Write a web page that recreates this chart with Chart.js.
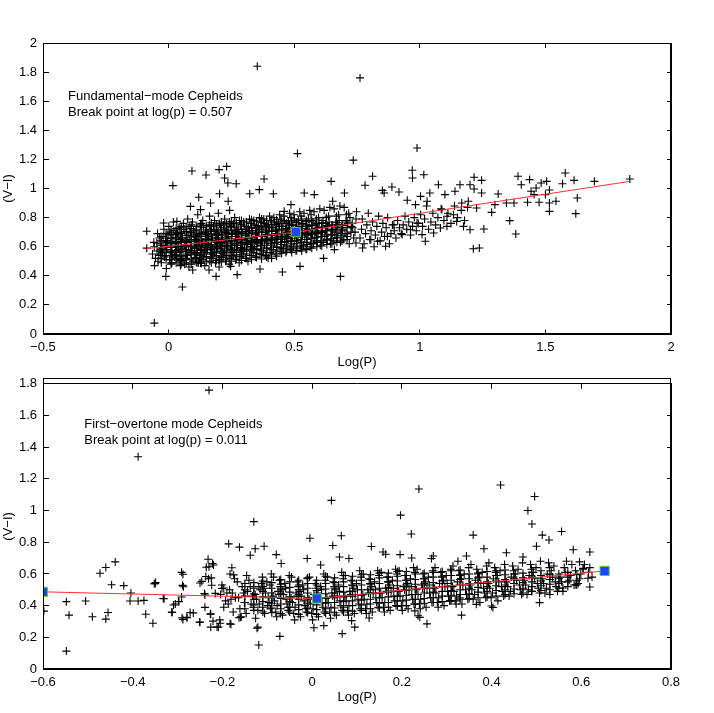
<!DOCTYPE html>
<html>
<head>
<meta charset="utf-8">
<title>Cepheid colour vs period</title>
<script src="https://cdn.jsdelivr.net/npm/chart.js@4.4.0/dist/chart.umd.min.js"></script>
<style>
  html, body { margin: 0; padding: 0; background: #fff; }
  #wrap { position: relative; width: 714px; height: 713px; }
  .layer { position: absolute; left: 0; }
  .frame { position: absolute; left: 43px; width: 628px; height: 291px; border: 1px solid #000; box-sizing: border-box; }
</style>
</head>
<body>
<div id="wrap">
  <div class="frame" style="top:43px"></div>
  <div class="frame" style="top:378px"></div>
  <canvas class="layer" id="fundData" width="714" height="370" style="top:0"></canvas>
  <canvas class="layer" id="fundAxes" width="714" height="370" style="top:0"></canvas>
  <canvas class="layer" id="overtoneData" width="714" height="343" style="top:370px"></canvas>
  <canvas class="layer" id="overtoneAxes" width="714" height="343" style="top:370px"></canvas>
</div>
<script>
// Fundamental-mode Cepheids: [log P, V-I]
const fundStars = [
  [-0.064,0.55],[-0.059,0.63],[-0.052,0.52],[-0.057,0.6],
  [-0.046,0.57],[-0.037,0.66],[-0.042,0.5],[-0.033,0.62],[-0.044,0.69],[-0.039,0.54],
  [-0.027,0.59],[-0.016,0.53],[-0.022,0.67],[-0.013,0.61],[-0.029,0.49],[-0.019,0.72],[-0.024,0.56],[-0.011,0.64],
  [-0.007,0.58],[0.004,0.51],[-0.002,0.68],[0.007,0.62],[-0.009,0.45],[0.001,0.74],[0.009,0.56],[-0.004,0.64],[0.005,0.7],
  [0.013,0.6],[0.024,0.53],[0.017,0.66],[0.028,0.57],[0.011,0.49],[0.021,0.71],[0.026,0.63],[0.015,0.55],[0.019,0.77],[0.029,0.68],
  [0.033,0.62],[0.046,0.5],[0.037,0.58],[0.048,0.65],[0.031,0.54],[0.042,0.73],[0.039,0.6],[0.044,0.56],[0.035,0.69],[0.047,0.47],[0.041,0.66],
  [0.053,0.59],[0.066,0.64],[0.057,0.52],[0.068,0.57],[0.051,0.7],[0.062,0.61],[0.059,0.76],[0.064,0.48],[0.055,0.66],[0.067,0.54],[0.061,0.72],
  [0.073,0.63],[0.086,0.56],[0.077,0.68],[0.088,0.6],[0.071,0.51],[0.082,0.74],[0.079,0.58],[0.084,0.65],[0.075,0.54],[0.087,0.7],[0.081,0.46],[0.076,0.79],
  [0.093,0.57],[0.106,0.62],[0.097,0.5],[0.108,0.67],[0.091,0.6],[0.102,0.55],[0.099,0.71],[0.104,0.64],[0.095,0.77],[0.107,0.52],[0.101,0.68],[0.096,0.44],[0.103,0.59],
  [0.113,0.61],[0.126,0.54],[0.117,0.66],[0.128,0.58],[0.111,0.72],[0.122,0.63],[0.119,0.49],[0.124,0.69],[0.115,0.56],[0.127,0.75],[0.121,0.6],[0.116,0.82],[0.123,0.52],
  [0.133,0.58],[0.146,0.65],[0.137,0.51],[0.148,0.61],[0.131,0.68],[0.142,0.55],[0.139,0.73],[0.144,0.47],[0.135,0.63],[0.147,0.7],[0.141,0.57],[0.136,0.78],[0.143,0.6],
  [0.153,0.62],[0.166,0.56],[0.157,0.69],[0.168,0.6],[0.151,0.53],[0.162,0.75],[0.159,0.65],[0.164,0.5],[0.155,0.58],[0.167,0.72],[0.161,0.44],[0.156,0.67],[0.163,0.81],
  [0.173,0.59],[0.186,0.64],[0.177,0.52],[0.188,0.68],[0.171,0.61],[0.182,0.56],[0.179,0.74],[0.184,0.6],[0.175,0.66],[0.187,0.49],[0.181,0.71],[0.176,0.55],[0.183,0.78],
  [0.193,0.63],[0.206,0.57],[0.197,0.7],[0.208,0.61],[0.191,0.54],[0.202,0.76],[0.199,0.66],[0.204,0.51],[0.195,0.59],[0.207,0.73],[0.201,0.46],[0.196,0.68],[0.203,0.62],[0.198,0.83],
  [0.213,0.6],[0.226,0.66],[0.217,0.53],[0.228,0.7],[0.211,0.63],[0.222,0.57],[0.219,0.75],[0.224,0.61],[0.215,0.68],[0.227,0.5],[0.221,0.72],[0.216,0.56],[0.223,0.79],
  [0.233,0.64],[0.246,0.58],[0.237,0.71],[0.248,0.62],[0.231,0.55],[0.242,0.77],[0.239,0.67],[0.244,0.52],[0.235,0.6],[0.247,0.74],[0.241,0.48],[0.236,0.69],[0.243,0.85],
  [0.253,0.61],[0.266,0.67],[0.257,0.54],[0.268,0.71],[0.251,0.64],[0.262,0.58],[0.259,0.76],[0.264,0.62],[0.255,0.69],[0.267,0.51],[0.261,0.73],[0.256,0.57],[0.263,0.8],
  [0.273,0.65],[0.286,0.59],[0.277,0.72],[0.288,0.63],[0.271,0.56],[0.282,0.78],[0.279,0.68],[0.284,0.53],[0.275,0.61],[0.287,0.75],[0.281,0.49],[0.276,0.7],
  [0.293,0.62],[0.306,0.68],[0.297,0.55],[0.308,0.72],[0.291,0.65],[0.302,0.59],[0.299,0.77],[0.304,0.63],[0.295,0.7],[0.307,0.52],[0.301,0.74],[0.296,0.58],
  [0.313,0.66],[0.326,0.6],[0.317,0.73],[0.328,0.64],[0.311,0.57],[0.322,0.79],[0.319,0.69],[0.324,0.54],[0.315,0.62],[0.327,0.76],[0.321,0.71],[0.316,0.5],
  [0.333,0.63],[0.346,0.69],[0.337,0.56],[0.348,0.73],[0.331,0.66],[0.342,0.6],[0.339,0.78],[0.344,0.64],[0.335,0.71],[0.347,0.53],[0.341,0.75],[0.336,0.59],
  [0.353,0.67],[0.366,0.61],[0.357,0.74],[0.368,0.65],[0.351,0.58],[0.362,0.8],[0.359,0.7],[0.364,0.55],[0.355,0.63],[0.367,0.77],[0.361,0.72],
  [0.373,0.64],[0.386,0.7],[0.377,0.57],[0.388,0.74],[0.371,0.67],[0.382,0.61],[0.379,0.79],[0.384,0.65],[0.375,0.72],[0.387,0.54],[0.381,0.76],
  [0.393,0.68],[0.406,0.62],[0.397,0.75],[0.408,0.66],[0.391,0.59],[0.402,0.81],[0.399,0.71],[0.404,0.56],[0.395,0.64],[0.407,0.78],[0.401,0.73],[0.396,0.52],
  [0.413,0.65],[0.426,0.71],[0.417,0.58],[0.428,0.75],[0.411,0.68],[0.422,0.62],[0.419,0.8],[0.424,0.66],[0.415,0.73],[0.427,0.55],[0.421,0.77],
  [0.433,0.69],[0.446,0.63],[0.437,0.76],[0.448,0.67],[0.431,0.6],[0.442,0.82],[0.439,0.72],[0.444,0.57],[0.435,0.65],[0.447,0.79],[0.441,0.74],
  [0.453,0.66],[0.466,0.72],[0.457,0.59],[0.468,0.76],[0.451,0.69],[0.462,0.63],[0.459,0.81],[0.464,0.67],[0.455,0.74],[0.467,0.56],[0.461,0.78],
  [0.473,0.7],[0.486,0.64],[0.477,0.77],[0.488,0.68],[0.471,0.61],[0.482,0.83],[0.479,0.73],[0.484,0.58],[0.475,0.66],[0.487,0.8],[0.481,0.75],
  [0.493,0.67],[0.506,0.73],[0.497,0.6],[0.508,0.77],[0.491,0.7],[0.502,0.64],[0.499,0.82],[0.504,0.68],[0.495,0.75],[0.507,0.57],[0.501,0.79],
  [0.513,0.71],[0.526,0.65],[0.517,0.78],[0.528,0.69],[0.511,0.62],[0.522,0.84],[0.519,0.74],[0.524,0.59],[0.515,0.67],[0.527,0.81],
  [0.533,0.68],[0.546,0.74],[0.537,0.61],[0.548,0.78],[0.531,0.71],[0.542,0.65],[0.539,0.83],[0.544,0.69],[0.535,0.76],[0.547,0.58],
  [0.553,0.72],[0.566,0.66],[0.557,0.79],[0.568,0.7],[0.551,0.63],[0.562,0.85],[0.559,0.75],[0.564,0.6],[0.555,0.68],[0.567,0.82],
  [0.573,0.69],[0.586,0.75],[0.577,0.62],[0.588,0.79],[0.571,0.72],[0.582,0.66],[0.579,0.84],[0.584,0.7],[0.575,0.77],
  [0.593,0.73],[0.606,0.67],[0.597,0.8],[0.608,0.71],[0.591,0.64],[0.602,0.86],[0.599,0.76],[0.604,0.61],[0.595,0.69],
  [0.613,0.7],[0.626,0.76],[0.617,0.63],[0.628,0.8],[0.611,0.73],[0.622,0.67],[0.619,0.85],[0.624,0.71],[0.615,0.78],
  [0.633,0.74],[0.646,0.68],[0.637,0.81],[0.648,0.72],[0.631,0.65],[0.642,0.87],[0.639,0.77],[0.644,0.62],
  [0.653,0.71],[0.666,0.77],[0.657,0.64],[0.668,0.81],[0.651,0.74],[0.662,0.68],[0.659,0.86],[0.664,0.72],
  [0.673,0.75],[0.686,0.69],[0.677,0.82],[0.688,0.73],[0.671,0.66],[0.682,0.88],[0.679,0.78],[0.684,0.63],
  [0.693,0.72],[0.706,0.78],[0.697,0.65],[0.708,0.82],[0.691,0.75],[0.702,0.69],[0.699,0.87],
  [0.713,0.76],[0.726,0.7],[0.717,0.83],[0.728,0.74],[0.711,0.67],[0.722,0.8],[0.719,0.62],
  [0.733,0.73],[0.746,0.79],[0.737,0.66],[0.748,0.84],[0.731,0.76],[0.742,0.7],
  [0.762,0.66],[0.768,0.72],[0.771,0.79],[0.778,0.62],[0.784,0.69],[0.789,0.75],[0.795,0.83],[0.801,0.65],
  [0.806,0.71],[0.812,0.77],[0.818,0.6],[0.823,0.68],[0.829,0.74],[0.836,0.81],[0.842,0.64],[0.848,0.7],
  [0.853,0.76],[0.86,0.67],[0.866,0.73],[0.872,0.8],[0.879,0.62],[0.885,0.69],[0.891,0.75],[0.898,0.71],
  [0.905,0.66],[0.912,0.78],[0.919,0.73],[0.926,0.69],[0.934,0.75],[0.941,0.81],[0.948,0.72],[0.956,0.77],
  [0.963,0.68],[0.971,0.74],[0.978,0.8],[0.986,0.71],[0.994,0.76],[1.003,0.82],[1.011,0.74],[1.019,0.79],
  [1.027,0.88],[1.035,0.72],[1.044,0.77],[1.052,0.83],[1.063,0.75],[1.072,0.8],[1.085,0.86],[1.096,0.78],
  [1.112,0.83],[1.124,0.76],[1.138,0.88],[1.15,0.8],[1.165,0.85],[1.178,0.78],[1.19,0.87],
  // scattered stars away from the main band
  [0.353,1.84],[0.513,1.24],[0.762,1.76],[-0.057,0.075],[0.055,0.323],[-0.011,0.396],[-0.056,0.47],
  [-0.087,0.706],[-0.087,0.59],[0.017,1.02],[0.093,1.12],[0.149,1.093],[0.201,1.13],[0.231,1.152],
  [0.223,1.072],[0.236,1.038],[0.269,1.033],[0.38,1.065],[0.12,0.94],[0.203,0.964],[0.237,0.912],
  [0.323,0.964],[0.361,0.992],[0.417,0.964],[0.54,0.969],[0.58,0.958],[0.647,1.049],[0.653,0.912],
  [0.7,0.969],[0.735,1.195],[-0.02,0.763],[0.033,0.774],[0.087,0.877],[0.127,0.855],[0.167,0.9],
  [0.487,0.889],[0.46,0.843],[0.047,0.511],[0.113,0.488],[0.189,0.396],[0.273,0.408],[0.364,0.447],
  [0.453,0.426],[0.523,0.465],[0.617,0.52],[0.684,0.396],[0.66,0.58],[0.2,0.511],[0.127,0.488],
  [0.247,0.465],[-0.033,0.568],[-0.047,0.625],[0.013,0.488],
  [0.989,1.278],[0.97,1.125],[0.971,1.072],[1.016,1.095],[0.812,1.084],[0.782,1.022],[0.889,1.01],
  [0.917,0.976],[0.851,0.987],[0.858,0.969],[1.074,1.026],[1.16,1.026],[1.2,1.026],[1.216,1.077],
  [1.246,1.056],[1.216,0.997],[1.246,0.969],[1.14,0.981],[1.1,0.958],[1.04,0.969],[1.003,0.946],
  [1.029,0.912],[0.983,0.889],[0.95,0.919],[1.312,0.962],[1.299,0.889],[1.286,0.836],[1.226,0.866],
  [1.193,0.912],[1.167,0.9],[1.134,0.82],[1.108,0.809],[1.088,0.855],[1.358,0.779],[1.382,0.687],
  [1.213,0.586],[1.237,0.591],[1.255,0.722],[1.2,0.717],[1.174,0.74],[1.147,0.774],[1.108,0.74],
  [1.082,0.729],[1.055,0.694],[1.022,0.637],[1.009,0.683],[0.989,0.763],[0.963,0.717],[0.93,0.683],
  [0.897,0.751],[0.871,0.671],[0.864,0.603],[0.832,0.637],[0.772,0.591],[0.805,0.648],[0.746,0.625],
  [1.345,0.9],[1.375,0.9],[1.391,1.084],[1.404,1.026],[1.437,1.061],[1.443,0.981],[1.463,1.003],
  [1.483,1.038],[1.505,1.049],[1.516,0.99],[1.5,0.958],[1.516,0.9],[1.516,0.843],[1.542,0.912],
  [1.429,0.905],[1.475,0.905],[1.455,0.958],[1.568,1.033],[1.579,1.107],[1.614,1.056],[1.627,0.935],
  [1.621,0.827],[1.695,1.049],[1.836,1.065]
];
// the crowded core of the fundamental band, column by column: [log P, [V-I ...]]
const fundCore = [
  [-0.03,[0.52,0.55,0.58,0.61,0.64,0.67]],
  [-0.01,[0.51,0.54,0.57,0.6,0.63,0.66,0.69]],
  [0.01,[0.48,0.51,0.54,0.565,0.595,0.625,0.655,0.685,0.715]],
  [0.03,[0.49,0.52,0.545,0.575,0.605,0.635,0.665,0.695,0.725]],
  [0.05,[0.48,0.505,0.535,0.565,0.6,0.63,0.66,0.69,0.72,0.74]],
  [0.07,[0.49,0.52,0.55,0.58,0.61,0.64,0.675,0.705,0.735]],
  [0.09,[0.48,0.51,0.545,0.575,0.605,0.635,0.665,0.695,0.725,0.75]],
  [0.11,[0.495,0.525,0.555,0.59,0.62,0.65,0.68,0.71,0.74]],
  [0.13,[0.485,0.515,0.545,0.575,0.61,0.64,0.67,0.7,0.735,0.76]],
  [0.15,[0.5,0.53,0.56,0.595,0.625,0.655,0.685,0.715,0.745]],
  [0.17,[0.49,0.52,0.55,0.58,0.615,0.645,0.675,0.705,0.74,0.765]],
  [0.19,[0.505,0.535,0.565,0.6,0.63,0.66,0.69,0.72,0.75]],
  [0.21,[0.495,0.525,0.555,0.585,0.62,0.65,0.68,0.71,0.745,0.77]],
  [0.23,[0.51,0.54,0.57,0.605,0.635,0.665,0.695,0.73,0.76]],
  [0.25,[0.5,0.53,0.56,0.59,0.625,0.655,0.685,0.715,0.75,0.775]],
  [0.27,[0.515,0.545,0.575,0.61,0.64,0.67,0.7,0.735,0.765]],
  [0.29,[0.505,0.535,0.565,0.595,0.63,0.66,0.69,0.72,0.755,0.78]],
  [0.31,[0.52,0.55,0.58,0.615,0.645,0.675,0.705,0.74,0.77]],
  [0.33,[0.51,0.54,0.57,0.6,0.635,0.665,0.695,0.725,0.76,0.785]],
  [0.35,[0.525,0.555,0.585,0.62,0.65,0.68,0.71,0.745,0.775]],
  [0.37,[0.515,0.545,0.575,0.605,0.64,0.67,0.7,0.73,0.765,0.79]],
  [0.39,[0.53,0.56,0.59,0.625,0.655,0.685,0.715,0.75,0.78]],
  [0.41,[0.52,0.55,0.58,0.61,0.645,0.675,0.705,0.735,0.77]],
  [0.43,[0.535,0.565,0.595,0.63,0.66,0.69,0.72,0.755,0.785]],
  [0.45,[0.555,0.585,0.615,0.65,0.68,0.71,0.74,0.775]],
  [0.47,[0.57,0.6,0.635,0.665,0.695,0.725,0.76]],
  [0.49,[0.56,0.59,0.62,0.655,0.685,0.715,0.745,0.78]],
  [0.51,[0.575,0.605,0.64,0.67,0.7,0.73,0.765]],
  [0.53,[0.57,0.6,0.63,0.665,0.695,0.725,0.755,0.79]],
  [0.55,[0.585,0.615,0.65,0.68,0.71,0.74,0.775]],
  [0.57,[0.59,0.62,0.655,0.685,0.715,0.745,0.78]],
  [0.59,[0.6,0.63,0.665,0.695,0.725,0.76]],
  [0.61,[0.605,0.64,0.67,0.7,0.735,0.765]],
  [0.63,[0.615,0.645,0.68,0.71,0.745]],
  [0.65,[0.62,0.655,0.685,0.72,0.75]],
  [0.67,[0.63,0.665,0.7,0.735,0.765]],
  [0.69,[0.64,0.675,0.71,0.745]],
  [0.71,[0.65,0.69,0.73,0.77]]
];
const fundFit = [[-0.087,0.586],[0.507,0.70],[1.84,1.05]];
const fundBreak = [[0.507,0.70]];

// First-overtone mode Cepheids: [log P, V-I]
const overtoneStars = [
  [-0.204,0.47],[-0.197,0.39],[-0.201,0.53],[-0.193,0.43],[-0.206,0.31],
  [-0.184,0.5],[-0.176,0.36],[-0.181,0.44],[-0.173,0.57],[-0.187,0.41],[-0.178,0.48],
  [-0.164,0.45],[-0.156,0.52],[-0.161,0.38],[-0.153,0.48],[-0.167,0.55],[-0.158,0.33],[-0.151,0.42],
  [-0.144,0.49],[-0.136,0.41],[-0.141,0.56],[-0.133,0.46],[-0.147,0.35],[-0.138,0.52],[-0.131,0.39],[-0.146,0.59],
  [-0.124,0.44],[-0.116,0.5],[-0.121,0.37],[-0.113,0.54],[-0.127,0.47],[-0.118,0.41],[-0.111,0.58],[-0.126,0.32],[-0.119,0.52],
  [-0.104,0.48],[-0.096,0.42],[-0.101,0.55],[-0.093,0.38],[-0.107,0.51],[-0.098,0.45],[-0.091,0.6],[-0.106,0.35],[-0.099,0.4],[-0.094,0.53],
  [-0.084,0.43],[-0.076,0.49],[-0.081,0.36],[-0.073,0.56],[-0.087,0.46],[-0.078,0.4],[-0.071,0.52],[-0.086,0.58],[-0.079,0.33],[-0.074,0.47],
  [-0.064,0.47],[-0.056,0.41],[-0.061,0.54],[-0.053,0.37],[-0.067,0.5],[-0.058,0.44],[-0.051,0.59],[-0.066,0.34],[-0.059,0.51],[-0.054,0.39],
  [-0.044,0.42],[-0.036,0.48],[-0.041,0.35],[-0.033,0.55],[-0.047,0.45],[-0.038,0.39],[-0.031,0.52],[-0.046,0.58],[-0.039,0.31],[-0.034,0.46],
  [-0.024,0.46],[-0.016,0.4],[-0.021,0.53],[-0.013,0.36],[-0.027,0.49],[-0.018,0.43],[-0.011,0.57],[-0.026,0.33],[-0.019,0.5],[-0.014,0.38],
  [-0.004,0.41],[0.004,0.47],[-0.001,0.35],[0.007,0.54],[-0.007,0.44],[0.002,0.38],[0.009,0.51],[-0.006,0.58],[0.001,0.31],[0.006,0.45],
  [0.016,0.45],[0.024,0.39],[0.019,0.52],[0.027,0.36],[0.013,0.48],[0.022,0.42],[0.029,0.56],[0.014,0.33],[0.021,0.5],[0.026,0.6],
  [0.036,0.42],[0.044,0.48],[0.039,0.36],[0.047,0.55],[0.033,0.45],[0.042,0.39],[0.049,0.52],[0.034,0.58],[0.041,0.32],[0.046,0.46],
  [0.056,0.46],[0.064,0.4],[0.059,0.53],[0.067,0.37],[0.053,0.5],[0.062,0.43],[0.069,0.57],[0.054,0.34],[0.061,0.49],[0.066,0.61],
  [0.076,0.43],[0.084,0.49],[0.079,0.37],[0.087,0.56],[0.073,0.46],[0.082,0.4],[0.089,0.53],[0.074,0.59],[0.081,0.34],[0.086,0.47],
  [0.096,0.47],[0.104,0.41],[0.099,0.54],[0.107,0.38],[0.093,0.51],[0.102,0.44],[0.109,0.58],[0.094,0.35],[0.101,0.5],[0.106,0.62],
  [0.116,0.44],[0.124,0.5],[0.119,0.38],[0.127,0.57],[0.113,0.47],[0.122,0.41],[0.129,0.54],[0.114,0.6],[0.121,0.35],[0.126,0.48],
  [0.136,0.48],[0.144,0.42],[0.139,0.55],[0.147,0.39],[0.133,0.52],[0.142,0.45],[0.149,0.59],[0.134,0.36],[0.141,0.5],[0.146,0.62],
  [0.156,0.45],[0.164,0.51],[0.159,0.39],[0.167,0.58],[0.153,0.48],[0.162,0.42],[0.169,0.55],[0.154,0.61],[0.161,0.36],[0.166,0.49],
  [0.176,0.49],[0.184,0.43],[0.179,0.56],[0.187,0.4],[0.173,0.53],[0.182,0.46],[0.189,0.6],[0.174,0.37],[0.181,0.51],[0.186,0.63],
  [0.196,0.46],[0.204,0.52],[0.199,0.4],[0.207,0.59],[0.193,0.49],[0.202,0.43],[0.209,0.56],[0.194,0.62],[0.201,0.37],[0.206,0.5],
  [0.216,0.5],[0.224,0.44],[0.219,0.57],[0.227,0.41],[0.213,0.54],[0.222,0.47],[0.229,0.61],[0.214,0.38],[0.221,0.52],[0.226,0.64],
  [0.236,0.47],[0.244,0.53],[0.239,0.41],[0.247,0.6],[0.233,0.5],[0.242,0.44],[0.249,0.57],[0.234,0.63],[0.241,0.38],[0.246,0.51],
  [0.256,0.51],[0.264,0.45],[0.259,0.58],[0.267,0.42],[0.253,0.55],[0.262,0.48],[0.269,0.62],[0.254,0.39],[0.261,0.53],
  [0.276,0.48],[0.284,0.54],[0.279,0.42],[0.287,0.61],[0.273,0.51],[0.282,0.45],[0.289,0.58],[0.274,0.64],[0.281,0.39],
  [0.296,0.52],[0.304,0.46],[0.299,0.59],[0.307,0.43],[0.293,0.56],[0.302,0.49],[0.309,0.63],[0.294,0.4],[0.301,0.54],
  [0.316,0.49],[0.324,0.55],[0.319,0.43],[0.327,0.62],[0.313,0.52],[0.322,0.46],[0.329,0.59],[0.314,0.65],[0.321,0.41],
  [0.336,0.53],[0.344,0.47],[0.339,0.6],[0.347,0.44],[0.333,0.57],[0.342,0.5],[0.349,0.64],[0.334,0.41],
  [0.356,0.5],[0.364,0.56],[0.359,0.44],[0.367,0.63],[0.353,0.53],[0.362,0.47],[0.369,0.6],[0.354,0.66],
  [0.376,0.54],[0.384,0.48],[0.379,0.61],[0.387,0.45],[0.373,0.58],[0.382,0.51],[0.389,0.65],[0.374,0.42],
  [0.396,0.51],[0.404,0.57],[0.399,0.45],[0.407,0.64],[0.393,0.54],[0.402,0.48],[0.409,0.61],[0.394,0.67],
  [0.416,0.55],[0.424,0.49],[0.419,0.62],[0.427,0.46],[0.413,0.59],[0.422,0.52],[0.429,0.66],[0.414,0.43],
  [0.436,0.52],[0.444,0.58],[0.439,0.46],[0.447,0.65],[0.433,0.55],[0.442,0.49],[0.449,0.62],
  [0.456,0.56],[0.464,0.5],[0.459,0.63],[0.467,0.47],[0.453,0.6],[0.462,0.53],[0.469,0.67],
  [0.476,0.53],[0.484,0.59],[0.479,0.47],[0.487,0.66],[0.473,0.56],[0.482,0.5],[0.489,0.63],
  [0.496,0.57],[0.504,0.51],[0.499,0.64],[0.507,0.48],[0.493,0.61],[0.502,0.54],[0.509,0.68],
  [0.516,0.54],[0.524,0.6],[0.519,0.48],[0.527,0.67],[0.513,0.57],[0.522,0.51],[0.529,0.64],
  [0.536,0.58],[0.544,0.52],[0.539,0.65],[0.547,0.49],[0.533,0.62],[0.542,0.55],
  [0.556,0.55],[0.564,0.61],[0.559,0.49],[0.567,0.68],[0.553,0.58],[0.562,0.64],
  [0.576,0.59],[0.584,0.53],[0.579,0.66],[0.587,0.62],[0.573,0.56],
  [0.596,0.57],[0.604,0.63],[0.599,0.6],[0.607,0.66],[0.593,0.54],
  [0.616,0.61],[0.624,0.58],[0.619,0.64],
  // scattered stars away from the main band
  [-0.23,1.76],[-0.388,1.34],[-0.548,0.113],[-0.548,0.425],[-0.542,0.34],[-0.505,0.429],[-0.49,0.33],
  [-0.473,0.604],[-0.46,0.641],[-0.439,0.676],[-0.46,0.315],[-0.455,0.357],[-0.447,0.532],[-0.42,0.526],
  [-0.404,0.48],[-0.406,0.429],[-0.388,0.429],[-0.375,0.433],[-0.371,0.346],[-0.355,0.289],[-0.352,0.538],
  [-0.349,0.546],[-0.332,0.445],[-0.312,0.357],[-0.309,0.404],[-0.297,0.425],[-0.291,0.61],[-0.288,0.598],
  [-0.289,0.528],[-0.291,0.454],[-0.288,0.313],[-0.279,0.326],[-0.272,0.357],[-0.25,0.295],[-0.246,0.553],
  [-0.237,0.584],[-0.232,0.693],[-0.23,0.645],[-0.222,0.666],[-0.225,0.575],[-0.24,0.476],[-0.227,0.346],
  [-0.226,0.264],[-0.209,0.264],[-0.205,0.289],[-0.186,0.79],[-0.162,0.769],[-0.13,0.93],[-0.127,0.759],
  [-0.107,0.775],[-0.138,0.718],[-0.119,0.151],[-0.121,0.264],[-0.072,0.206],[-0.08,0.722],[-0.069,0.666],
  [-0.011,0.697],[-0.005,0.825],[0.004,0.26],[0.026,0.274],[0.019,0.656],[0.043,1.064],[0.046,0.779],
  [0.065,0.841],[0.061,0.707],[0.082,0.697],[0.067,0.223],[-0.179,0.639],[-0.175,0.594],[-0.197,0.511],
  [-0.19,0.48],[-0.171,0.45],[-0.16,0.326],[-0.183,0.285],[-0.22,0.656],[-0.236,0.642],[-0.287,0.519],
  [-0.25,0.543],[-0.231,0.57],[-0.224,0.529],[-0.183,0.6],[-0.216,0.477],[-0.239,0.467],[-0.201,0.508],
  [-0.33,0.443],[-0.305,0.41],[-0.298,0.426],[-0.313,0.36],[-0.29,0.323],[-0.279,0.323],[-0.265,0.354],
  [-0.251,0.296],[-0.226,0.348],[-0.221,0.302],[-0.212,0.265],[-0.239,0.389],[-0.181,0.282],[-0.163,0.323],
  [-0.123,0.257],[-0.35,0.539],[-0.598,0.365],
  [0.238,1.136],[0.42,1.161],[0.496,1.089],[0.481,1.0],[0.49,0.915],[0.197,0.971],[0.221,0.852],
  [0.359,0.845],[0.383,0.759],[0.433,0.734],[0.513,0.845],[0.528,0.814],[0.556,0.868],[0.5,0.775],
  [0.582,0.753],[0.619,0.738],[0.132,0.773],[0.158,0.738],[0.164,0.724],[0.196,0.722],[0.222,0.701],
  [0.27,0.713],[0.266,0.697],[0.344,0.713],[0.325,0.68],[0.47,0.707],[0.507,0.419],[0.403,0.388],
  [0.4,0.398],[0.333,0.34],[0.256,0.285],[0.24,0.326],[0.236,0.336],[0.229,0.367],[0.127,0.322],
  [0.095,0.264],[0.088,0.305],[0.619,0.518],[0.588,0.532],[0.559,0.511],[0.53,0.47],[0.489,0.491],
  [0.596,0.676],[0.604,0.635],[0.615,0.573],[0.366,0.408],[0.329,0.449],[0.307,0.429]
];
// the crowded core of the overtone band, column by column: [log P, [V-I ...]]
const overtoneCore = [
  [-0.15,[0.38,0.42,0.46,0.5,0.54]],
  [-0.13,[0.37,0.405,0.44,0.475,0.51,0.545]],
  [-0.11,[0.36,0.39,0.425,0.455,0.49,0.52,0.555]],
  [-0.09,[0.355,0.385,0.415,0.45,0.48,0.51,0.545]],
  [-0.07,[0.35,0.38,0.41,0.445,0.475,0.505,0.535,0.565]],
  [-0.05,[0.36,0.39,0.425,0.455,0.485,0.515,0.55]],
  [-0.03,[0.345,0.375,0.405,0.44,0.47,0.5,0.53,0.56]],
  [-0.01,[0.355,0.385,0.415,0.45,0.48,0.51,0.54,0.575]],
  [0.01,[0.345,0.375,0.405,0.435,0.465,0.495,0.53,0.56]],
  [0.03,[0.35,0.38,0.415,0.445,0.475,0.505,0.54,0.585]],
  [0.05,[0.355,0.385,0.42,0.45,0.48,0.51,0.545,0.575]],
  [0.07,[0.36,0.39,0.425,0.455,0.485,0.52,0.55,0.59]],
  [0.09,[0.365,0.4,0.43,0.46,0.49,0.525,0.555,0.585]],
  [0.11,[0.37,0.405,0.435,0.465,0.5,0.53,0.56,0.595]],
  [0.13,[0.38,0.41,0.44,0.475,0.505,0.535,0.565,0.595]],
  [0.15,[0.385,0.415,0.45,0.48,0.51,0.54,0.575,0.605]],
  [0.17,[0.39,0.42,0.455,0.485,0.515,0.55,0.58,0.605]],
  [0.19,[0.395,0.43,0.46,0.49,0.525,0.555,0.585,0.615]],
  [0.21,[0.4,0.435,0.465,0.495,0.53,0.56,0.59,0.615]],
  [0.23,[0.41,0.44,0.47,0.505,0.535,0.565,0.6]],
  [0.25,[0.415,0.445,0.48,0.51,0.54,0.57,0.605]],
  [0.27,[0.42,0.45,0.485,0.515,0.545,0.58,0.61]],
  [0.29,[0.425,0.46,0.49,0.52,0.555,0.585,0.615]],
  [0.31,[0.43,0.465,0.495,0.525,0.56,0.59,0.62]],
  [0.33,[0.44,0.47,0.5,0.535,0.565,0.595,0.625]],
  [0.35,[0.445,0.475,0.51,0.54,0.57,0.6]],
  [0.37,[0.45,0.485,0.515,0.545,0.575,0.605]],
  [0.39,[0.455,0.49,0.52,0.55,0.58,0.615]],
  [0.41,[0.46,0.495,0.525,0.555,0.59,0.62]],
  [0.43,[0.47,0.5,0.53,0.565,0.595,0.625]],
  [0.45,[0.475,0.505,0.54,0.57,0.6]],
  [0.47,[0.48,0.51,0.545,0.575,0.605]],
  [0.49,[0.49,0.52,0.55,0.58,0.61]],
  [0.51,[0.495,0.525,0.555,0.59,0.62]],
  [0.53,[0.5,0.535,0.565,0.595]],
  [0.55,[0.51,0.54,0.57,0.6]],
  [0.57,[0.52,0.55,0.58,0.61]],
  [0.59,[0.53,0.56,0.595]]
];
const overtoneFit = [[-0.6,0.487],[0.011,0.445],[0.652,0.619]];
const overtoneBreaks = [[-0.6,0.487],[0.011,0.445],[0.652,0.619]];

// axis ticks
const fundXTicks = [-0.5, 0, 0.5, 1, 1.5, 2];
const fundYTicks = [0, 0.2, 0.4, 0.6, 0.8, 1, 1.2, 1.4, 1.6, 1.8, 2];
const overtoneXTicks = [-0.6, -0.4, -0.2, 0, 0.2, 0.4, 0.6, 0.8];
const overtoneYTicks = [0, 0.2, 0.4, 0.6, 0.8, 1, 1.2, 1.4, 1.6, 1.8];

const FONT = { family: 'Liberation Sans, Arial, Helvetica, sans-serif', size: 13 };
const toXY = arr => arr.map(([x, y]) => ({ x, y }));
const fromColumns = cols => cols.flatMap(([x, ys]) => ys.map(y => ({ x, y })));
const fmt = v => String(Number(v.toFixed(2))).replace('-', '\u2212');

// the two text lines in the upper left of each panel
const notePlugin = {
  id: 'note',
  afterDraw(chart, args, opts) {
    if (!opts.lines) return;
    const { ctx, scales: { x, y } } = chart;
    ctx.save();
    ctx.fillStyle = '#000';
    ctx.font = FONT.size + 'px ' + FONT.family;
    ctx.textAlign = 'left';
    ctx.textBaseline = 'middle';
    opts.lines.forEach((txt, i) => {
      ctx.fillText(txt, x.getPixelForValue(opts.x), y.getPixelForValue(opts.y[i]));
    });
    ctx.restore();
  }
};

// a bare axis used only for the top / right side of the box
const edgeAxis = (axis, position, range, isX, show) => ({
  axis, position, type: 'linear', min: range[0], max: range[1],
  grid: { display: false },
  ticks: { display: false },
  border: { display: show, color: '#000', width: 1 },
  afterFit: s => { if (isX) s.height = 0; else s.width = 0; }
});

// shared scale layout; the data canvas keeps the same layout but draws no axes,
// the axes canvas on top draws the box, inward ticks, labels and the note
function scales(xr, yr, xTicks, yTicks, show) {
  const ink = show ? '#000' : 'rgba(0,0,0,0)';
  return {
    x: {
      type: 'linear', position: 'bottom', min: xr[0], max: xr[1],
      afterBuildTicks: s => { s.ticks = xTicks.map(v => ({ value: v })); },
      afterFit: s => { s.height = 36; },
      // dashed grid: only 5px stubs at the top and bottom remain, i.e. inward ticks
      grid: { display: show, drawOnChartArea: true, drawTicks: false, color: '#000', lineWidth: 1 },
      border: { display: show, color: '#000', width: 1, dash: [5, 281.5] },
      ticks: { color: ink, font: FONT, padding: 6, maxRotation: 0, autoSkip: false, callback: fmt },
      title: { display: true, text: 'Log(P)', color: ink, font: FONT, padding: { top: 0, bottom: 0 } }
    },
    y: {
      type: 'linear', position: 'left', min: yr[0], max: yr[1],
      afterBuildTicks: s => { s.ticks = yTicks.map(v => ({ value: v })); },
      afterFit: s => { s.width = 43; },
      grid: { display: show, drawOnChartArea: true, drawTicks: false, color: '#000', lineWidth: 1 },
      border: { display: show, color: '#000', width: 1, dash: [5, 618] },
      ticks: { color: ink, font: FONT, padding: 6, autoSkip: false, callback: fmt },
      title: { display: true, text: '(V\u2212I)', color: ink, font: FONT, padding: { top: 1, bottom: 0 } }
    },
    xTop: edgeAxis('x', 'top', xr, true, show),
    yRight: edgeAxis('y', 'right', yr, false, show)
  };
}

function baseOptions(padding, scaleSet, note) {
  return {
    responsive: false,
    devicePixelRatio: 1,
    animation: false,
    events: [],
    layout: { padding },
    plugins: { legend: { display: false }, tooltip: { enabled: false }, note },
    scales: scaleSet
  };
}

function makePanel(dataId, axesId, stars, core, fit, breaks, xr, yr, xTicks, yTicks, padding, note) {
  new Chart(document.getElementById(dataId), {
    type: 'scatter',
    data: {
      datasets: [
        { data: toXY(breaks), pointStyle: 'rect', pointRadius: 6.5, backgroundColor: '#1e46ff', borderColor: '#5cd13c', borderWidth: 1 },
        { data: toXY(fit), showLine: true, borderColor: '#ff3030', borderWidth: 1, pointRadius: 0 },
        { data: toXY(stars).concat(fromColumns(core)), pointStyle: 'cross', pointRadius: 4, borderColor: '#000', borderWidth: 1.1 }
      ]
    },
    options: baseOptions(padding, scales(xr, yr, xTicks, yTicks, false), {})
  });
  new Chart(document.getElementById(axesId), {
    type: 'scatter',
    data: { datasets: [] },
    options: baseOptions(padding, scales(xr, yr, xTicks, yTicks, true), note),
    plugins: [notePlugin]
  });
}

makePanel('fundData', 'fundAxes', fundStars, fundCore, fundFit, fundBreak, [-0.5, 2], [0, 2], fundXTicks, fundYTicks,
  { left: 0, right: 43, top: 43, bottom: 0 },
  { x: -0.4, y: [1.634, 1.521], lines: ['Fundamental\u2212mode Cepheids', 'Break point at log(p) = 0.507'] });

makePanel('overtoneData', 'overtoneAxes', overtoneStars, overtoneCore, overtoneFit, overtoneBreaks, [-0.6, 0.8], [0, 1.8], overtoneXTicks, overtoneYTicks,
  { left: 0, right: 43, top: 8, bottom: 8 },
  { x: -0.508, y: [1.541, 1.44], lines: ['First\u2212overtone mode Cepheids', 'Break point at log(p) = 0.011'] });
</script>
</body>
</html>
